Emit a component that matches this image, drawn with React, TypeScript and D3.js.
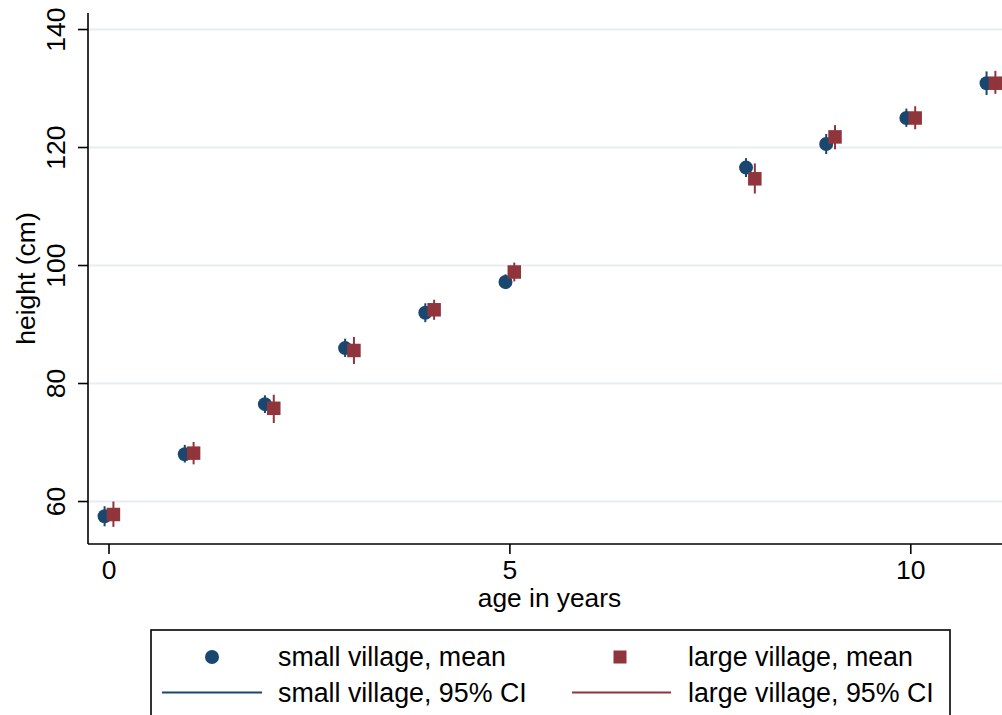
import React from "react";
import * as d3 from "d3";

// Ages surveyed (years)
const ages = [0, 1, 2, 3, 4, 5, 8, 9, 10, 11];

// Small village: mean height and 95% CI bounds (cm)
const smallMean = [57.5, 68.0, 76.5, 86.0, 92.0, 97.2, 116.6, 120.6, 125.0, 130.9];
const smallLo = [55.8, 66.6, 75.0, 84.5, 90.4, 96.0, 115.0, 118.9, 123.5, 128.9];
const smallHi = [59.2, 69.6, 78.0, 87.6, 93.6, 98.5, 118.2, 122.3, 126.6, 132.9];

// Large village: mean height and 95% CI bounds (cm)
const largeMean = [57.8, 68.2, 75.8, 85.6, 92.5, 98.9, 114.7, 121.8, 125.0, 130.9];
const largeLo = [55.7, 66.3, 73.3, 83.3, 90.8, 97.3, 112.2, 119.7, 123.1, 129.1];
const largeHi = [60.0, 70.1, 78.1, 87.9, 94.2, 100.5, 117.3, 123.8, 127.0, 133.0];

const xTicks = [0, 5, 10];
const yTicks = [60, 80, 100, 120, 140];

const legendLabels = [
  "small village, mean",
  "large village, mean",
  "small village, 95% CI",
  "large village, 95% CI",
];

const NAVY = "#1a476f";
const MAROON = "#90353b";
const GRID = "#e6eef0";
const FONT = "'Liberation Sans', Arial, Helvetica, sans-serif";

const W = 1002;
const H = 715;
const left = 88;
const right = 1011;
const top = 13;
const bottom = 544;
const dodge = 0.055;

export default function App() {
  const x = d3.scaleLinear().domain([-0.262, 11.25]).range([left, right]);
  const y = d3.scaleLinear().domain([52.8, 142.8]).range([bottom, top]);

  const series = [
    { mean: smallMean, lo: smallLo, hi: smallHi, color: NAVY, off: -dodge, shape: "circle" },
    { mean: largeMean, lo: largeLo, hi: largeHi, color: MAROON, off: dodge, shape: "square" },
  ];

  const r = 7;
  const sq = 13.5;
  const midX = (left + right) / 2;

  return (
    <svg
      width={W}
      height={H}
      style={{ position: "absolute", left: 0, top: 0, background: "#fff" }}
      fontFamily={FONT}
    >
      <rect x={0} y={0} width={W} height={H} fill="#fff" />
      {/* horizontal gridlines */}
      {yTicks.map((t) => (
        <line key={"g" + t} x1={left} x2={right} y1={y(t)} y2={y(t)} stroke={GRID} strokeWidth={1.8} />
      ))}

      {/* markers */}
      {series.map((s, si) =>
        ages.map((a, i) =>
          s.shape === "circle" ? (
            <circle key={`m${si}-${i}`} cx={x(a + s.off)} cy={y(s.mean[i])} r={r} fill={s.color} />
          ) : (
            <rect
              key={`m${si}-${i}`}
              x={x(a + s.off) - sq / 2}
              y={y(s.mean[i]) - sq / 2}
              width={sq}
              height={sq}
              fill={s.color}
            />
          )
        )
      )}

      {/* confidence interval spikes */}
      {series.map((s, si) =>
        ages.map((a, i) => (
          <line
            key={`c${si}-${i}`}
            x1={x(a + s.off)}
            x2={x(a + s.off)}
            y1={y(s.lo[i])}
            y2={y(s.hi[i])}
            stroke={s.color}
            strokeWidth={2}
          />
        ))
      )}

      {/* axes */}
      <line x1={left} x2={left} y1={top} y2={bottom} stroke="#000" strokeWidth={1.6} />
      <line x1={left} x2={right} y1={bottom} y2={bottom} stroke="#000" strokeWidth={1.6} />
      {yTicks.map((t) => (
        <g key={"yt" + t}>
          <line x1={left - 10} x2={left} y1={y(t)} y2={y(t)} stroke="#000" strokeWidth={1.6} />
          <text
            transform={`translate(65,${y(t)}) rotate(-90)`}
            textAnchor="middle"
            fontSize={26.5}
            fill="#000"
          >
            {t}
          </text>
        </g>
      ))}
      {xTicks.map((t) => (
        <g key={"xt" + t}>
          <line x1={x(t)} x2={x(t)} y1={bottom} y2={bottom + 10} stroke="#000" strokeWidth={1.6} />
          <text x={x(t)} y={579} textAnchor="middle" fontSize={26.5} fill="#000">
            {t}
          </text>
        </g>
      ))}
      <text x={midX} y={607} textAnchor="middle" fontSize={26.3} fill="#000">
        age in years
      </text>
      <text
        transform={`translate(35,${(top + bottom) / 2}) rotate(-90)`}
        textAnchor="middle"
        fontSize={26.5}
        fill="#000"
      >
        height (cm)
      </text>

      {/* legend */}
      <rect x={151} y={630} width={799} height={110} fill="#fff" stroke="#000" strokeWidth={1.6} />
      <circle cx={212} cy={657} r={r} fill={NAVY} />
      <rect x={620 - 6.5} y={657 - 6.5} width={13} height={13} fill={MAROON} />
      <line x1={162} x2={262} y1={692.5} y2={692.5} stroke={NAVY} strokeWidth={2} />
      <line x1={572} x2={671} y1={692.5} y2={692.5} stroke={MAROON} strokeWidth={2} />
      <text x={278} y={666} fontSize={26.8} fill="#000">{legendLabels[0]}</text>
      <text x={688} y={666} fontSize={26.8} fill="#000">{legendLabels[1]}</text>
      <text x={278} y={702} fontSize={26.8} fill="#000">{legendLabels[2]}</text>
      <text x={688} y={702} fontSize={26.8} fill="#000">{legendLabels[3]}</text>
    </svg>
  );
}
